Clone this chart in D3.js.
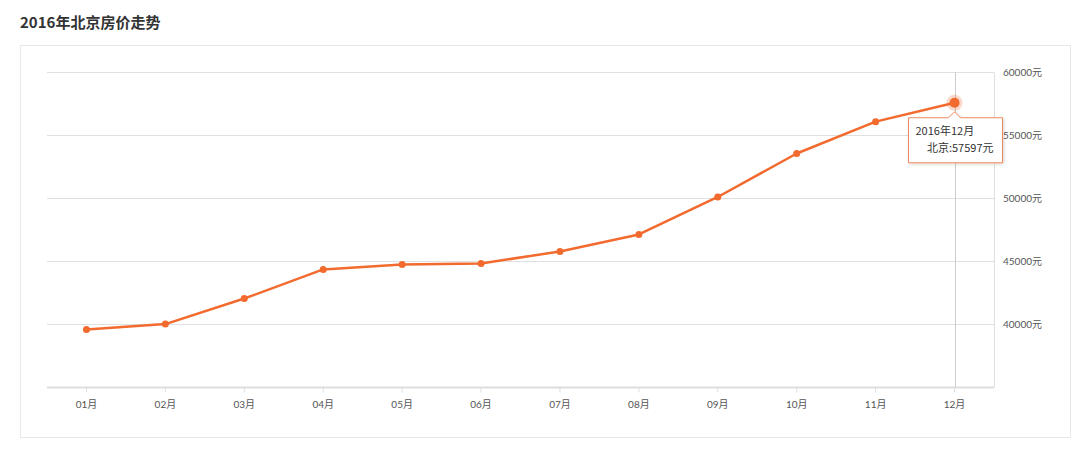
<!DOCTYPE html>
<html><head><meta charset="utf-8">
<script src="https://cdn.jsdelivr.net/npm/d3@7/dist/d3.min.js"></script>
<style>
body{margin:0;background:#fff;font-family:"Noto Sans CJK SC","Noto Sans",sans-serif;}
</style></head>
<body><svg id="c" width="1080" height="458"></svg>
<script>
const months = ["01月","02月","03月","04月","05月","06月","07月","08月","09月","10月","11月","12月"];
const prices = [39600,40030,42060,44370,44760,44840,45800,47150,50120,53570,56100,57597];
const yTicks = [40000,45000,50000,55000,60000];
const title = "2016年北京房价走势";
const tipTitle = "2016年12月";
const tipSeries = "北京";

const svg = d3.select("#c");
const orange = "#f26a2e";
const L=47,R=994,T=72.5,B=387.5;

svg.append("text").attr("x",20).attr("y",28).attr("font-size",15).attr("font-weight","bold").attr("fill","#333").text(title);
svg.append("rect").attr("x",20.5).attr("y",45.5).attr("width",1050).attr("height",392).attr("fill","none").attr("stroke","#e8e8e8");

const x = d3.scaleBand().domain(months).range([L,R]);
const y = d3.scaleLinear().domain([35000,60000]).range([B,T]);

// grid
svg.append("g").selectAll("line").data(yTicks).join("line")
  .attr("x1",L).attr("x2",R).attr("y1",d=>Math.floor(y(d))+0.5).attr("y2",d=>Math.floor(y(d))+0.5)
  .attr("stroke","#e0e0e0");
svg.append("line").attr("x1",R+0.5).attr("x2",R+0.5).attr("y1",T).attr("y2",B).attr("stroke","#e0e0e0");
// y labels
const ya = svg.append("g").attr("transform",`translate(${R},0)`).call(d3.axisRight(y).tickValues(yTicks).tickSize(0).tickPadding(9).tickFormat(d=>d+"元"));
ya.select(".domain").remove();
ya.selectAll("text").attr("font-size",10).attr("fill","#555").attr("font-family","Lato,'Noto Sans CJK SC',sans-serif");

// crosshair
svg.append("line").attr("x1",Math.round(x("12月")+x.bandwidth()/2)+0.5).attr("x2",Math.round(x("12月")+x.bandwidth()/2)+0.5)
  .attr("y1",T).attr("y2",B).attr("stroke","#ccc");

// x axis
const xa = svg.append("g").attr("transform",`translate(0,${B})`).call(d3.axisBottom(x).tickSize(5).tickPadding(8));
xa.select(".domain").attr("stroke","#ddd").attr("stroke-width",2).attr("d",`M${L},0H${R}`);
xa.selectAll(".tick line").attr("stroke","#ddd");
xa.selectAll("text").attr("font-size",10).attr("fill","#555").attr("font-family","Lato,'Noto Sans CJK SC',sans-serif");

const cx = d=>x(d)+x.bandwidth()/2;
const data = months.map((m,i)=>({m,v:prices[i]}));
svg.append("path").datum(data).attr("fill","none").attr("stroke",orange).attr("stroke-width",2.5)
  .attr("stroke-linejoin","round")
  .attr("d",d3.line().x(d=>cx(d.m)).y(d=>y(d.v)));
svg.append("g").selectAll("circle").data(data.slice(0,-1)).join("circle")
  .attr("cx",d=>cx(d.m)).attr("cy",d=>y(d.v)).attr("r",3.5).attr("fill",orange);
const last = data[data.length-1];
svg.append("circle").attr("cx",cx(last.m)).attr("cy",y(last.v)).attr("r",8).attr("fill",orange).attr("opacity",0.25);
svg.append("circle").attr("cx",cx(last.m)).attr("cy",y(last.v)).attr("r",5).attr("fill",orange);

// tooltip
const tx = cx(last.m), ty = y(last.v);
const bx=908.5, by=ty+15, bw=94, bh=45;
const defs = svg.append("defs");
const f = defs.append("filter").attr("id","sh").attr("x","-20%").attr("y","-20%").attr("width","140%").attr("height","150%");
f.append("feDropShadow").attr("dx",1).attr("dy",1).attr("stdDeviation",1.5).attr("flood-color","#000").attr("flood-opacity",0.18);
svg.append("path").attr("filter","url(#sh)")
  .attr("d",`M${bx},${by}H${tx-6}L${tx},${by-6}L${tx+6},${by}H${bx+bw}V${by+bh}H${bx}Z`)
  .attr("fill","#fff").attr("stroke","#f08a5d").attr("stroke-width",1);
svg.append("text").attr("x",bx+7).attr("y",by+17).attr("font-size",11).attr("fill","#333").text(tipTitle);
svg.append("text").attr("x",bx+bw-9).attr("y",by+34).attr("font-size",11).attr("fill","#333").attr("text-anchor","end").text(tipSeries+":"+last.v+"元");
</script></body></html>
